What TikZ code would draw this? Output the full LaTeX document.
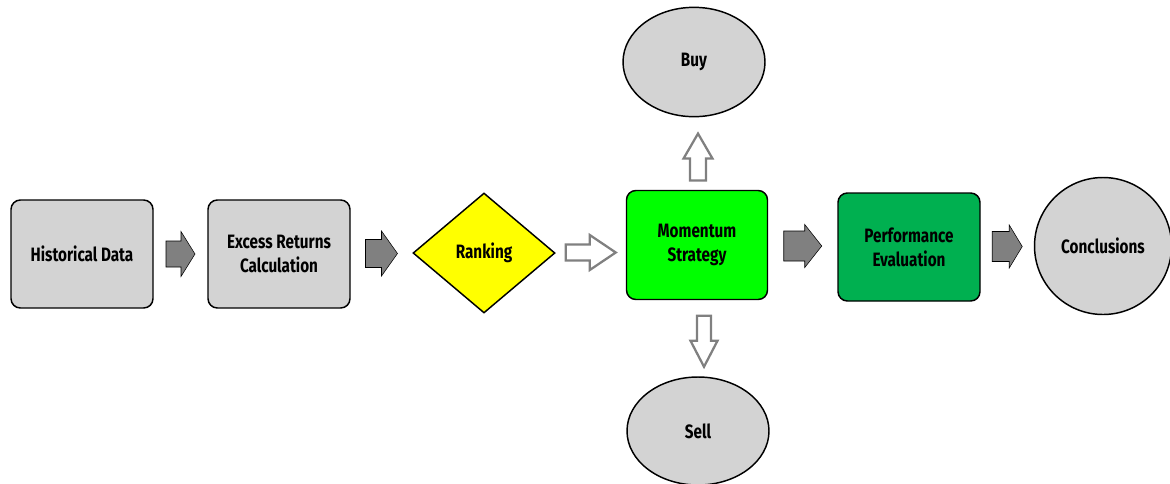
\documentclass[tikz,border=0pt]{standalone}
\usepackage{fontspec}
\setmainfont{Fira Sans}[FakeStretch=0.79]
\usetikzlibrary{positioning,calc,shapes.geometric}
\definecolor{boxgray}{RGB}{211,211,211}
\definecolor{arrowgray}{RGB}{128,128,128}
\definecolor{limegreen}{RGB}{0,255,0}
\definecolor{perfgreen}{RGB}{0,176,80}
\definecolor{rankyellow}{RGB}{255,255,0}
% block arrow centred at #1, turned by #2: length, body half, head half, head length
\newcommand{\blockarrow}[7]{%
  \draw[#7,shift={#1},rotate=#2]
    ({-#3/2},-#4) -- ({#3/2-#6},-#4) -- ({#3/2-#6},-#5) -- ({#3/2},0)
    -- ({#3/2-#6},#5) -- ({#3/2-#6},#4) -- ({-#3/2},#4) -- cycle;}

\begin{document}
\begin{tikzpicture}[x=0.75pt,y=-0.75pt,
  label font/.style={font=\fontsize{14.5}{18}\selectfont\bfseries},
  block/.style={draw=black,line width=1.1pt,rounded corners=7pt,fill=boxgray,
    minimum width=106.5pt,minimum height=81pt,align=center,inner sep=2pt,label font},
  choice/.style={diamond,draw=black,line width=1.1pt,fill=rankyellow,
    minimum width=106.5pt,minimum height=90pt,inner sep=0pt,label font},
  outcome/.style={ellipse,draw=black,line width=1.1pt,fill=boxgray,
    minimum width=106.5pt,minimum height=82pt,inner sep=0pt,label font},
  solid arrow/.style={fill=arrowgray},
  hollow arrow/.style={draw=arrowgray,fill=white,line width=1.7pt}
]
  \useasboundingbox (0,0) rectangle (1170,483);

  % Main row of steps.
  \node[block] (hist) at (82,254) {Historical Data};
  \node[block] (excess) at (279,254) {Excess Returns\\Calculation};
  \node[choice] (rank) at (484,253) {Ranking};
  \node[block,fill=limegreen,minimum width=105.75pt,minimum height=81.75pt]
    (mom) at (697,245) {Momentum\\Strategy};
  \node[block,fill=perfgreen] (perf) at (909,247) {Performance\\Evaluation};
  \node[circle,draw=black,line width=1.1pt,fill=boxgray,minimum size=102.75pt,
    inner sep=0pt,label font] (concl) at (1103,246) {Conclusions};

  % Branches off the strategy.
  \node[outcome] (buy) at (694,62) {Buy};
  \node[outcome,minimum height=81pt] (sell) at (698,431) {Sell};

  % Block arrows between the steps.
  \blockarrow{($(hist.east)!0.5!(excess.west)$)}{0}{29}{13}{22.5}{14}{solid arrow}
  \blockarrow{($(excess.east)!0.5!(rank.west)$)}{0}{32}{14}{22.5}{16}{solid arrow}
  \blockarrow{($(rank.east)!0.5!(mom.west)+(0,3.5)$)}{0}{50}{8}{17.5}{26}{hollow arrow}
  \blockarrow{($(mom.east)!0.5!(perf.west)$)}{0}{38}{15}{21.5}{17}{solid arrow}
  \blockarrow{($(perf.east)!0.5!(concl.west)$)}{0}{30}{15}{21.5}{13}{solid arrow}
  \blockarrow{($(mom.north)!0.5!(buy.south)+(2.5,3.5)$)}{90}{47}{8}{14.5}{25}{hollow arrow}
  \blockarrow{($(mom.south)!0.5!(sell.north)+(6.5,3)$)}{-90}{51}{7}{13.5}{26}{hollow arrow}
\end{tikzpicture}
\end{document}
